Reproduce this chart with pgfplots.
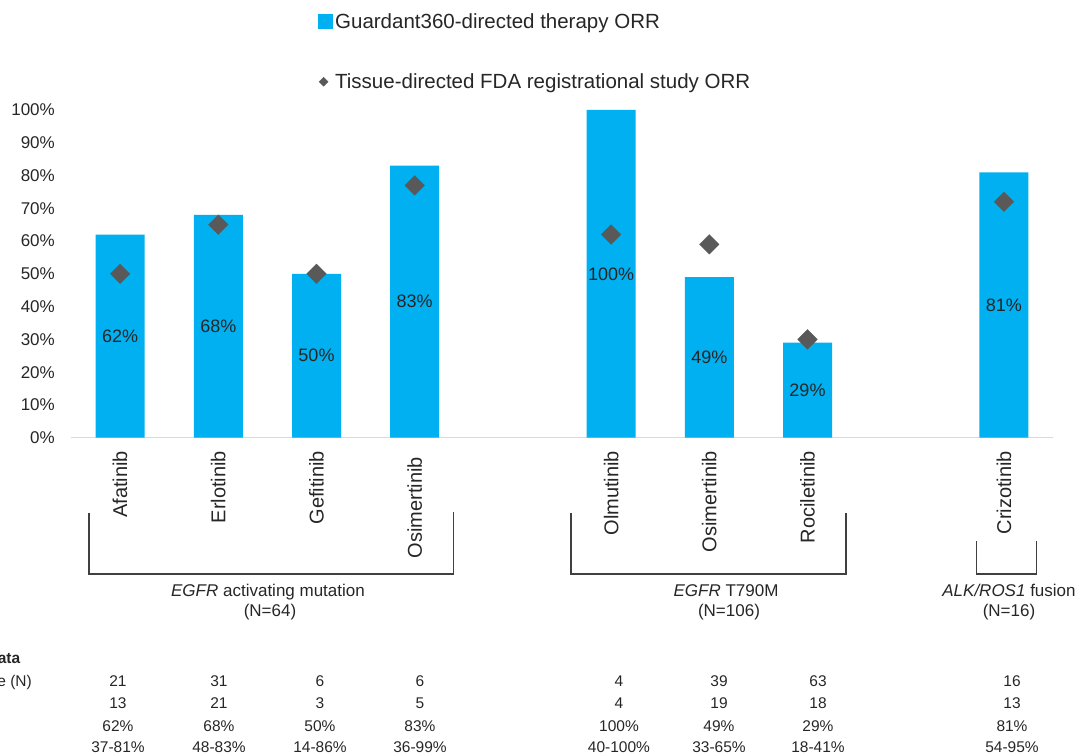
\documentclass[border=0pt]{standalone}
\usepackage{pgfplots}
\pgfplotsset{compat=1.18}
\usepackage{fontspec}
\setmainfont{Liberation Sans}
\definecolor{barblue}{HTML}{00B0F0}
\definecolor{dgray}{HTML}{595959}
\definecolor{brk}{HTML}{404040}
\definecolor{axl}{HTML}{D9D9D9}
\definecolor{txt}{HTML}{262626}
\begin{document}
\begin{tikzpicture}[x=1pt,y=1pt]
\useasboundingbox (0,0) rectangle (1079,755);
\clip (0,0) rectangle (1079,755);
\begin{axis}[
  at={(71pt,317.3pt)}, anchor=south west,
  scale only axis, width=982pt, height=327.7pt,
  xmin=-0.5, xmax=9.5, ymin=0, ymax=100,
  axis lines*=left,
  x axis line style={draw=axl, line width=1.5pt},
  y axis line style={draw=none},
  tick style={draw=none},
  major tick length=0pt,
  /pgf/number format/assume math mode=true,
  xtick={0,1,2,3,5,6,7,9},
  xticklabels={Afatinib,Erlotinib,Gefitinib,Osimertinib\hspace*{6pt},Olmutinib,Osimertinib,Rociletinib,Crizotinib},
  xticklabel style={rotate=90, anchor=east, inner xsep=13pt, inner ysep=0pt, font=\fontsize{20}{24}\selectfont, text=txt},
  ytick={0,10,...,100},
  yticklabels={0\%,10\%,20\%,30\%,40\%,50\%,60\%,70\%,80\%,90\%,100\%},
  yticklabel style={anchor=east, inner sep=0pt, xshift=-16pt, font=\fontsize{17}{20}\selectfont, text=txt},
  legend style={at={(0.2515,1.3006)}, anchor=north west, draw=none, fill=none, inner sep=0pt, row sep=39.5pt, font=\fontsize{20.5}{24}\selectfont, text=txt, cells={anchor=west}},
  clip=false,
]
\addplot[ybar, bar width=49pt, fill=barblue, draw=none,
  nodes near coords={\pgfmathprintnumber{\pgfplotspointmeta}\%},
  visualization depends on={rawy \as \rawy},
  nodes near coords style={anchor=center, yshift={-0.5*\rawy*3.277pt}, font=\fontsize{18}{22}\selectfont, text=txt},
  legend image code/.code={\path[draw=none,fill=none] (0pt,-7.5pt) rectangle (15pt,7.5pt); \fill[barblue] (0pt,-7.5pt) rectangle (15pt,7.5pt);}
] coordinates {(0,62) (1,68) (2,50) (3,83) (5,100) (6,49) (7,29) (9,81)};
\addlegendentry{Guardant360-directed therapy ORR}
\addplot[dgray, only marks, mark=square*, mark size=7pt, mark options={rotate=45, fill=dgray, draw=dgray, line width=0.1pt},
  legend image code/.code={\path[draw=none,fill=none] (0pt,-7.5pt) rectangle (15pt,7.5pt); \fill[dgray] (5.5pt,-4.5pt) -- (10pt,0pt) -- (5.5pt,4.5pt) -- (1pt,0pt) -- cycle;}
] coordinates {(0,50) (1,65) (2,50) (3,77) (5,62) (6,59) (7,30) (9,72)};
\addlegendentry{Tissue-directed FDA registrational study ORR}
\end{axis}
% group brackets
\draw[brk, line width=1.3pt] (89,242.3) -- (89,181) -- (453.3,181) -- (453.3,243.3);
\draw[brk, line width=1.3pt] (571,242.3) -- (571,181) -- (846,181) -- (846,242.3);
\draw[brk, line width=1.3pt] (976.7,214) -- (976.7,181) -- (1036.7,181) -- (1036.7,214);
\begin{scope}[every node/.style={anchor=base, inner sep=0pt, font=\fontsize{17}{20}\selectfont, text=txt}]
\node at (268,158) {\textit{EGFR} activating mutation};
\node at (270,138) {(N=64)};
\node at (726,158) {\textit{EGFR} T790M};
\node at (729,138) {(N=106)};
\node at (1009,158) {\textit{ALK/ROS1} fusion};
\node at (1009,138) {(N=16)};
\end{scope}
% data table
\begin{scope}[every node/.style={anchor=base, inner sep=0pt, font=\fontsize{15.5}{18}\selectfont, text=txt}]
\node[anchor=base east, font=\bfseries\fontsize{15.5}{18}\selectfont] at (20.5,91) {Guardant360 Data};
\node[anchor=base east] at (32,68.5) {Sample size (N)};
\foreach \x/\a/\b/\c/\d in {118/21/13/62/37-81, 219/31/21/68/48-83, 320/6/3/50/14-86, 420/6/5/83/36-99, 619/4/4/100/40-100, 719/39/19/49/33-65, 818/63/18/29/18-41, 1012/16/13/81/54-95}{
  \node at (\x,68.5) {\a};
  \node at (\x,46.7) {\b};
  \node at (\x,23.7) {\c\%};
  \node at (\x,2) {\d\%};
}
\end{scope}
\end{tikzpicture}
\end{document}
